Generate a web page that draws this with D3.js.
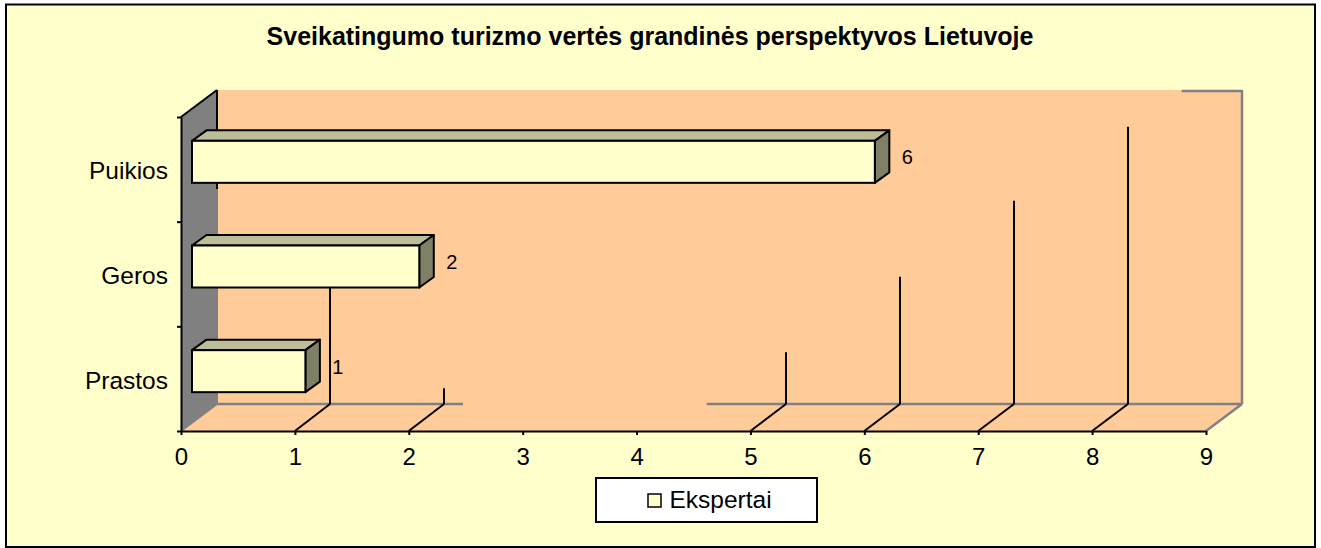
<!DOCTYPE html>
<html><head><meta charset="utf-8">
<script src="https://cdnjs.cloudflare.com/ajax/libs/d3/7.8.5/d3.min.js"></script>
<style>html,body{margin:0;padding:0;background:#fff}svg{display:block}text{font-family:"Liberation Sans",Arial,sans-serif;fill:#000}</style>
</head><body><svg id="c" width="1321" height="548"></svg>
<script>
const titleText = "Sveikatingumo turizmo vertės grandinės perspektyvos Lietuvoje";
const categories = ["Prastos", "Geros", "Puikios"];
const values = [1, 2, 6];
const seriesName = "Ekspertai";
const xTicks = [0,1,2,3,4,5,6,7,8,9];
// stray gridline fragments left on the back wall: tick value, share of wall height
const gridTicks = [1,2,5,6,7,8];
const gridReach = [0.37,0.05,0.165,0.405,0.647,0.883];
// visible parts of the grey floor line and wall-top line, in axis units
const floorParts = [[0,2.16],[4.3,9]];
const topParts = [[8.47,9]];

const svg = d3.select("#c");
const L=181,R=1206,B=431,T=117,DX=36,DY=27;
const x = d3.scaleLinear().domain([0,9]).range([L,R]);
const xBack = d3.scaleLinear().domain([0,9]).range([L+DX-1,R+DX]);
const y = d3.scaleLinear().domain([0,3]).range([B,T]);
const wall = d3.scaleLinear().domain([0,1]).range([B-DY,T-DY]);
const BLACK="#000",GREY="#808080";
const line=(x1,y1,x2,y2,c,w)=>svg.append("line").attr("x1",x1).attr("y1",y1).attr("x2",x2).attr("y2",y2).attr("stroke",c).attr("stroke-width",w);
const poly=(pts,fill,stroke,w)=>svg.append("polygon").attr("points",pts.map(p=>p.join(",")).join(" ")).attr("fill",fill).attr("stroke",stroke||"none").attr("stroke-width",w||0).attr("stroke-linejoin","round");

svg.append("rect").attr("x",6).attr("y",4.5).attr("width",1309).attr("height",542.5).attr("fill","#FFFFCC").attr("stroke",BLACK).attr("stroke-width",2);

svg.append("text").attr("x",650).attr("y",45).attr("text-anchor","middle").attr("font-size",25).attr("font-weight","bold").text(titleText);

// back wall and floor
svg.append("rect").attr("x",L+DX).attr("y",T-DY).attr("width",R-L).attr("height",B-T).attr("fill","#FFCC99");
poly([[L,B],[R,B],[R+DX,B-DY],[L+DX,B-DY]],"#FFCC99");
// side wall
poly([[L,T],[L+DX,T-DY],[L+DX,B-DY],[L,B]],GREY);
line(L+DX,T-DY,L+DX,189,BLACK,2);
line(L+DX,189,L+DX,B-DY,GREY,2);
line(L,B,L+DX,B-DY,GREY,2);
line(L,T,L+DX,T-DY,BLACK,2);
// grey frame
floorParts.forEach(p=>line(x(p[0])+DX,B-DY,x(p[1])+DX,B-DY,GREY,2.5));
topParts.forEach(p=>line(x(p[0])+DX,T-DY+1,x(p[1])+DX,T-DY+1,GREY,2.5));
line(R+DX,T-DY,R+DX,B-DY,GREY,2.5);
line(R,B,R+DX,B-DY,GREY,2.5);
// gridlines
gridTicks.forEach((t,i)=>{
  line(x(t),B,xBack(t),B-DY,BLACK,2);
  line(xBack(t),B-DY,xBack(t),wall(gridReach[i]),BLACK,2);
});
// axes
svg.append("g").attr("transform",`translate(0,${B})`)
  .call(d3.axisBottom(x).tickValues(xTicks).tickSize(4).tickSizeOuter(0).tickPadding(13))
  .call(g=>{g.selectAll("path,line").attr("stroke",BLACK).attr("stroke-width",2);g.selectAll("text").attr("font-size",24).attr("font-family",'"Liberation Sans",Arial,sans-serif')});
svg.append("g").attr("transform",`translate(${L},0)`)
  .call(d3.axisLeft(y).ticks(3).tickFormat("").tickSize(4).tickSizeOuter(0))
  .call(g=>g.selectAll("path,line").attr("stroke",BLACK).attr("stroke-width",2));
// category labels
const band=d3.scaleBand().domain(categories).range([B,T]);
svg.selectAll(".cat").data(categories).join("text").attr("class","cat")
  .attr("x",168).attr("y",d=>band(d)+band.bandwidth()/2+10).attr("text-anchor","end").attr("font-size",24.5).text(d=>d);
// bars
const ox=10.5,oy=8,bh=42,bdx=14.5,bdy=10.5;
categories.forEach((c,i)=>{
  const x0=x(0)+11,x1=x(values[i])+ox;
  const yT=band(c)+band.bandwidth()/2-bh/2-oy+0.5;
  const yB=yT+bh;
  poly([[x0,yT],[x0+bdx,yT-bdy],[x1+bdx,yT-bdy],[x1,yT]],"#BDBD99",BLACK,2);
  poly([[x1,yT],[x1+bdx,yT-bdy],[x1+bdx,yB-bdy],[x1,yB]],"#808066",BLACK,2);
  svg.append("rect").attr("x",x0).attr("y",yT).attr("width",x1-x0).attr("height",bh).attr("fill","#FFFFCC").attr("stroke",BLACK).attr("stroke-width",2);
  svg.append("text").attr("x",x1+bdx+18).attr("y",yT+23.5).attr("text-anchor","middle").attr("font-size",20).text(values[i]);
});
// legend
svg.append("rect").attr("x",596).attr("y",478).attr("width",221).attr("height",44).attr("fill","#fff").attr("stroke",BLACK).attr("stroke-width",2);
svg.append("rect").attr("x",648).attr("y",494).attr("width",13).attr("height",13).attr("fill","#FFFFCC").attr("stroke",BLACK).attr("stroke-width",1.5);
svg.append("text").attr("x",669.5).attr("y",508).attr("font-size",24.5).text(seriesName);
</script></body></html>
